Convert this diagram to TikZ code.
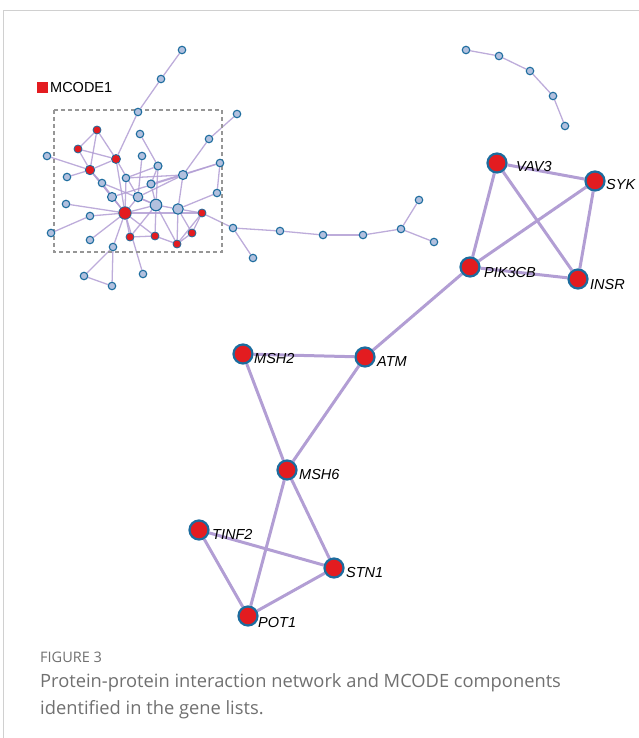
\documentclass[tikz,border=0pt]{standalone}
\usepackage{fontspec}
\setmainfont{Liberation Sans}
\newfontfamily\capfont{Open Sans}
\usetikzlibrary{backgrounds}
\definecolor{nred}{RGB}{227,28,32}
\definecolor{nblue}{RGB}{28,108,158}
\definecolor{nfill}{RGB}{178,192,222}
\definecolor{edgec}{RGB}{178,158,212}
\definecolor{boxgray}{RGB}{150,150,150}
\definecolor{framegray}{RGB}{208,208,208}
\definecolor{capgray}{RGB}{112,112,112}
\begin{document}
\begin{tikzpicture}[x=1pt,y=-1pt,
  bign/.style={circle,fill=nred,draw=nblue,line width=2.2pt,minimum size=19pt,inner sep=0pt},
  sb/.style={circle,fill=nfill,draw=nblue,line width=1.1pt,minimum size=7.5pt,inner sep=0pt},
  sr/.style={circle,fill=nred,draw=nblue,line width=0.8pt,minimum size=8pt,inner sep=0pt},
  lab/.style={anchor=west,font=\fontsize{14.5}{15}\selectfont\itshape,inner sep=0pt},
  bedge/.style={draw=edgec,line width=3pt},
  sedge/.style={draw=edgec,line width=1.3pt,opacity=0.85},
  capt/.style={anchor=west,inner sep=0pt,text=capgray}]
\useasboundingbox (0,0) rectangle (639,738);
\draw[framegray,line width=0.8pt] (3.5,738) -- (3.5,10.5) -- (639,10.5);

% legend and dashed box
\node[fill=nred,minimum size=11pt,inner sep=0pt] (legsq) at (42.5,87.5) {};
\node[anchor=west,inner sep=0pt,font=\fontsize{14.5}{15}\selectfont] (legtx) at (50,88) {MCODE1};
\draw[boxgray,line width=1.6pt,dash pattern=on 4pt off 3pt] (54,110) rectangle (222,252);

% ---- small network nodes
\node[sb] (a1) at (182,50) {};
\node[sb] (a2) at (161,79) {};
\node[sb] (a3) at (138,112) {};
\node[sb] (b1) at (237,114) {};
\node[sb] (b2) at (209,139) {};
\node[sr] (R1) at (97,130) {};
\node[sr] (R2) at (78,149) {};
\node[sb] (B1) at (140,134) {};
\node[sb] (L1) at (47,156) {};
\node[sr,minimum size=9pt] (R3) at (116,159) {};
\node[sb] (B2) at (142,156) {};
\node[sb,minimum size=8pt] (B3) at (158,166) {};
\node[sb] (B4) at (220,163) {};
\node[sr,minimum size=9.5pt] (R4) at (90,170) {};
\node[sb] (L2) at (67,177) {};
\node[sb] (B5) at (102,183) {};
\node[sb] (B6) at (126,178) {};
\node[sb,minimum size=9pt] (B7) at (183,175) {};
\node[sb,minimum size=8pt] (B8) at (151,184) {};
\node[sb,minimum size=9pt] (B9) at (112,197) {};
\node[sb,minimum size=9.5pt] (B10) at (138,197) {};
\node[sb] (B11) at (217,193) {};
\node[sb] (L3) at (66,204) {};
\node[sb,minimum size=11.5pt] (H) at (156,205) {};
\node[sb,minimum size=10.5pt] (B12) at (178,209) {};
\node[sr,minimum size=12.5pt] (RR) at (125,213) {};
\node[sr] (R5) at (202,213) {};
\node[sb] (L4) at (90,216) {};
\node[sb] (C1) at (233,228) {};
\node[sb] (L5) at (51,233) {};
\node[sr] (R6) at (130,237) {};
\node[sr] (R7) at (155,236) {};
\node[sr] (R8) at (192,233) {};
\node[sr] (R9) at (177,244) {};
\node[sb] (L6) at (90,240) {};
\node[sb] (B13) at (113,247) {};
\node[sb] (D1) at (143,274) {};
\node[sb] (D2) at (84,276) {};
\node[sb] (D3) at (112,286) {};
\node[sb] (c2) at (253,258) {};
\node[sb] (c3) at (280,231) {};
\node[sb] (c4) at (323,235) {};
\node[sb] (c5) at (363,235) {};
\node[sb] (c6) at (401,229) {};
\node[sb] (c7) at (419,200) {};
\node[sb] (c8) at (434,242) {};
\node[sb] (e1) at (466,50) {};
\node[sb] (e2) at (499,56) {};
\node[sb] (e3) at (530,71) {};
\node[sb] (e4) at (553,96) {};
\node[sb] (e5) at (565,126) {};

% ---- big network nodes
\node[bign] (VAV3) at (497,163) {};
\node[bign] (SYK) at (595,181) {};
\node[bign] (PIK3CB) at (470,267) {};
\node[bign] (INSR) at (578,279) {};
\node[bign] (MSH2) at (243,354) {};
\node[bign] (ATM) at (365,357) {};
\node[bign] (MSH6) at (287,470) {};
\node[bign] (TINF2) at (199,530) {};
\node[bign] (STN1) at (334,568) {};
\node[bign] (POT1) at (248,616) {};

\node[lab] (lVAV3) at (516,167) {VAV3};
\node[lab] (lSYK) at (606,185) {SYK};
\node[lab] (lPIK3CB) at (484,273) {PIK3CB};
\node[lab] (lINSR) at (590,285) {INSR};
\node[lab] (lMSH2) at (254,359) {MSH2};
\node[lab] (lATM) at (377,362) {ATM};
\node[lab] (lMSH6) at (299,475) {MSH6};
\node[lab] (lTINF2) at (212,534) {TINF2};
\node[lab] (lSTN1) at (346,573) {STN1};
\node[lab] (lPOT1) at (258,623) {POT1};

% caption
\node[capt,font=\capfont\fontsize{14.5}{15}\selectfont] (fig) at (40,657) {FIGURE 3};
\node[capt,font=\capfont\fontsize{18.3}{20}\selectfont] (cap1) at (40,683) {Protein-protein interaction network and MCODE components};
\node[capt,font=\capfont\fontsize{18.3}{20}\selectfont] (cap2) at (40,710) {identified in the gene lists.};

\begin{scope}[on background layer]
% big edges
\foreach \u/\v in {VAV3/SYK,VAV3/PIK3CB,VAV3/INSR,SYK/PIK3CB,SYK/INSR,PIK3CB/INSR,PIK3CB/ATM,ATM/MSH2,ATM/MSH6,MSH2/MSH6,MSH6/STN1,MSH6/POT1,TINF2/STN1,TINF2/POT1,STN1/POT1}
  \draw[bedge] (\u) -- (\v);
% small edges
\foreach \u/\v in {a1/a2,a2/a3,a3/R3,b1/b2,b2/B7,
  R1/R2,R1/R4,R1/R3,R2/R3,R2/R4,R3/R4,L1/R4,L2/R4,R4/B5,R4/B9,R4/RR,R3/RR,R3/B10,
  B1/B3,B2/B10,B3/H,B3/B6,B3/B8,B6/RR,B5/RR,B5/H,
  B7/B12,B7/B4,B7/B9,B7/B10,B8/B4,B6/B7,B4/B11,B11/B12,
  B9/RR,B10/RR,B10/H,B8/H,
  RR/H,RR/R5,RR/R6,RR/R7,RR/L3,RR/L4,L4/L5,RR/L6,RR/B13,RR/D1,
  H/R6,H/R7,H/R9,H/B12,
  B12/R5,B12/R8,B12/R9,R5/R8,R5/R9,R5/C1,R8/R9,R7/R9,R6/R7,
  C1/c2,C1/c3,c3/c4,c4/c5,c5/c6,c6/c7,c6/c8,
  B13/D2,B13/D3,D2/D3,
  e1/e2,e2/e3,e3/e4,e4/e5}
  \draw[sedge] (\u) -- (\v);
\end{scope}
\end{tikzpicture}
\end{document}
